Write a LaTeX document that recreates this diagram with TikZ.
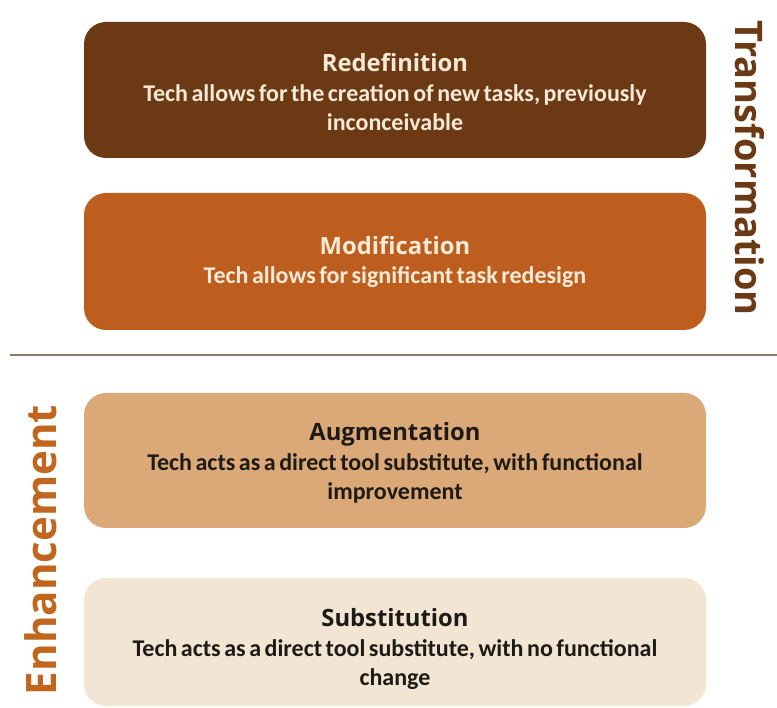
\documentclass[tikz,border=0pt]{standalone}
\usepackage{fontspec}
\setmainfont{Carlito}[WordSpace=0.65]
\newfontfamily\headfont{Open Sans}
\newcommand\levelname[1]{{\headfont\bfseries\fontsize{23.8}{29.5}\selectfont #1}}
\begin{document}
\begin{tikzpicture}[x=1pt,y=-1pt,
  level/.style={rounded corners=22pt, inner sep=0pt},
  lighttext/.style={text=textcream},
  darktext/.style={text=textdark},
  body/.style={align=center, font=\bfseries\fontsize{24}{29.5}\selectfont},
  sidelabel/.style={font=\headfont\bfseries\fontsize{38}{40}\selectfont}]
\definecolor{redef}{HTML}{6B3A14}
\definecolor{modif}{HTML}{BD5E1F}
\definecolor{augm}{HTML}{DBA877}
\definecolor{subst}{HTML}{F3E5D3}
\definecolor{textcream}{HTML}{F6E9D6}
\definecolor{textdark}{HTML}{1E1A16}
\definecolor{divider}{HTML}{8E7A69}
\definecolor{transcol}{HTML}{6B3A14}
\definecolor{enhcol}{HTML}{C0661F}
\useasboundingbox (0,0) rectangle (777,708);

% four SAMR levels
\fill[redef, level] (84,22) rectangle (706,158);
\fill[modif, level] (84,193) rectangle (706,330);
\fill[augm, level] (84,393) rectangle (706,528);
\fill[subst, level] (84,578) rectangle (706,706);

\node[lighttext, body] (redefinition) at (395,92)
  {\levelname{Redefinition}\\Tech allows for the creation of new tasks, previously\\inconceivable};
\node[lighttext, body] (modification) at (395,262)
  {\levelname{Modification}\\Tech allows for significant task redesign};
\node[darktext, body] (augmentation) at (395,463)
  {\levelname{Augmentation}\\Tech acts as a direct tool substitute, with functional\\improvement};
\node[darktext, body] (substitution) at (395,649)
  {\levelname{Substitution}\\Tech acts as a direct tool substitute, with no functional\\change};

% divider between the two stages
\coordinate (divL) at (10,355);
\coordinate (divR) at (777,355);
\draw[divider, line width=2pt] (divL) -- (divR);

% stage labels
\node[sidelabel, text=transcol, rotate=-90] (transformation) at (750,168) {Transformation};
\node[sidelabel, text=enhcol, font=\headfont\bfseries\fontsize{42}{44}\selectfont, rotate=90] (enhancement) at (41,550) {Enhancement};
\end{tikzpicture}
\end{document}
